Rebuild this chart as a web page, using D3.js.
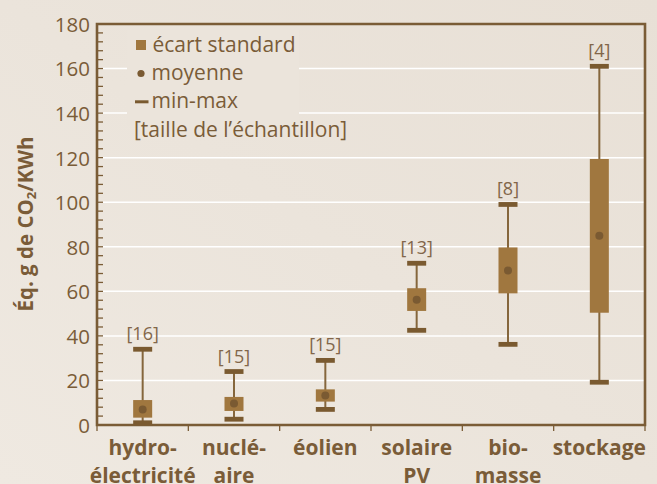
<!DOCTYPE html>
<html>
<head>
<meta charset="utf-8">
<script src="https://cdn.jsdelivr.net/npm/d3@7/dist/d3.min.js"></script>
<style>
html,body{margin:0;padding:0;background:#ebe4db;}
svg{display:block;}
</style>
</head>
<body>
<svg id="chart" width="657" height="484"></svg>
<script>
const categories = [["hydro-","électricité"],["nuclé-","aire"],["éolien"],["solaire","PV"],["bio-","masse"],["stockage"]];
const minVals = [1, 2.6, 7, 42.5, 36.2, 19.2];
const maxVals = [34, 24, 29, 72.6, 99, 161];
const sdLow = [3.3, 6.3, 10.5, 51.2, 59.1, 50.4];
const sdHigh = [11.2, 12.6, 16, 61.4, 79.7, 119.4];
const means = [7, 9.6, 13.2, 56.2, 69.3, 85];
const sampleSizes = [16, 15, 15, 13, 8, 4];
const yTicks = [0, 20, 40, 60, 80, 100, 120, 140, 160, 180];
const legendLabels = ["écart standard", "moyenne", "min-max", "[taille de l’échantillon]"];

const FONT = "'Open Sans', 'DejaVu Sans', sans-serif";
const TEXT = "#7a5c38";
const AXIS = "#7a5c36";
const BOX = "#a0773f";
const CAP = "#7a5a30";
const DOT = "#7a5a32";

const svg = d3.select("#chart");
const W = 657, H = 484;
const m = {left: 97, right: 12, top: 24, bottom: 59};
const iw = W - m.left - m.right, ih = H - m.top - m.bottom;

// background gradient
const defs = svg.append("defs");
const grad = defs.append("linearGradient").attr("id","bg").attr("x1","0").attr("y1","1").attr("x2","1").attr("y2","0");
grad.append("stop").attr("offset","0").attr("stop-color","#efe9e1");
grad.append("stop").attr("offset","0.5").attr("stop-color","#ebe4db");
grad.append("stop").attr("offset","1").attr("stop-color","#e8e0d6");
svg.append("rect").attr("width",W).attr("height",H).attr("fill","url(#bg)");

const x = d3.scaleBand().domain(d3.range(categories.length)).range([m.left, m.left + iw]).padding(0);
const y = d3.scaleLinear().domain([0, 180]).range([m.top + ih, m.top]);

// gridlines
svg.append("g").selectAll("line").data(yTicks.filter(d => d > 0 && d < 180)).join("line")
  .attr("x1", m.left).attr("x2", m.left + iw)
  .attr("y1", d => y(d)).attr("y2", d => y(d))
  .attr("stroke", "#ffffff").attr("stroke-width", 1.5);

// legend background covering gridlines
svg.append("rect").attr("x", 127).attr("y", 30).attr("width", 172).attr("height", 95).attr("fill", "#ebe4db");

// minor ticks on y axis (inside)
const minor = d3.range(0, 181, 4);
svg.append("g").selectAll("line").data(minor).join("line")
  .attr("x1", m.left).attr("x2", m.left + 6)
  .attr("y1", d => y(d)).attr("y2", d => y(d))
  .attr("stroke", AXIS).attr("stroke-width", 1.3);

// y axis labels via d3 axis
const yAxis = d3.axisLeft(y).tickValues(yTicks).tickSize(0).tickPadding(7);
const gy = svg.append("g").attr("transform", `translate(${m.left},0)`).call(yAxis);
gy.select(".domain").remove();
gy.selectAll("text").attr("font-family", FONT).attr("font-size", 20.5).attr("fill", TEXT).attr("dy", "0.36em");

// x axis ticks at band boundaries
const bounds = categories.map((c,i) => x(i)).concat([m.left + iw]);
svg.append("g").selectAll("line").data(bounds).join("line")
  .attr("x1", d => d).attr("x2", d => d)
  .attr("y1", y(0)).attr("y2", y(0) + 6)
  .attr("stroke", AXIS).attr("stroke-width", 1.3);

// frame
svg.append("path")
  .attr("d", `M${m.left},${y(0)}V${y(180)}H${m.left+iw}V${y(0)}Z`)
  .attr("fill","none").attr("stroke", AXIS).attr("stroke-width", 2.6);

// boxes
const bw = 19;
const g = svg.append("g");
const idx = d3.range(categories.length);
const cx = i => x(i) + x.bandwidth()/2;

g.selectAll(".whisker").data(idx).join("line")
  .attr("x1", cx).attr("x2", cx)
  .attr("y1", i => y(minVals[i])).attr("y2", i => y(maxVals[i]))
  .attr("stroke", "#85663c").attr("stroke-width", 2);

g.selectAll(".box").data(idx).join("rect")
  .attr("x", i => cx(i) - bw/2).attr("width", bw)
  .attr("y", i => y(sdHigh[i])).attr("height", i => y(sdLow[i]) - y(sdHigh[i]))
  .attr("fill", BOX);

g.selectAll(".capmax").data(idx).join("rect")
  .attr("x", i => cx(i) - bw/2).attr("width", bw)
  .attr("y", i => y(maxVals[i]) - 2.4).attr("height", 4.8).attr("fill", CAP);
g.selectAll(".capmin").data(idx).join("rect")
  .attr("x", i => cx(i) - bw/2).attr("width", bw)
  .attr("y", i => y(minVals[i]) - 2.4).attr("height", 4.8).attr("fill", CAP);

g.selectAll(".dot").data(idx).join("circle")
  .attr("cx", cx).attr("cy", i => y(means[i])).attr("r", 4)
  .attr("fill", DOT);

g.selectAll(".n").data(idx).join("text")
  .attr("x", cx).attr("y", i => y(maxVals[i]) - 9)
  .attr("text-anchor", "middle").attr("font-family", FONT).attr("font-size", 18)
  .attr("fill", "#82664a")
  .text(i => `[${sampleSizes[i]}]`);

// x labels
const xl = svg.append("g").selectAll("text").data(idx).join("text")
  .attr("text-anchor", "middle").attr("font-family", FONT).attr("font-weight", "bold")
  .attr("font-size", 21).attr("fill", TEXT)
  .attr("x", cx).attr("y", 455);
xl.selectAll("tspan").data(i => categories[i].map(t => ({t, i}))).join("tspan")
  .attr("x", d => cx(d.i)).attr("dy", (d, j) => j === 0 ? 0 : 27.5)
  .text(d => d.t);

// y title
const yt = svg.append("text")
  .attr("transform", "translate(33,224) rotate(-90)")
  .attr("text-anchor", "middle").attr("font-family", FONT).attr("font-weight", "bold")
  .attr("font-size", 20.5).attr("fill", TEXT);
yt.append("tspan").text("Éq. g de CO");
yt.append("tspan").attr("font-size", 13).attr("dy", 3).text("2");
yt.append("tspan").attr("dy", -3).text("/KWh");

// legend
const lg = svg.append("g").attr("font-family", FONT).attr("font-size", 21).attr("fill", TEXT);
lg.append("rect").attr("x", 136).attr("y", 40).attr("width", 10).attr("height", 10).attr("fill", BOX);
lg.append("circle").attr("cx", 141).attr("cy", 73.5).attr("r", 3.6).attr("fill", DOT);
lg.append("rect").attr("x", 135).attr("y", 100.3).attr("width", 13.5).attr("height", 3).attr("fill", CAP);
const lx = [152.5, 151.5, 151.5, 134];
const ly = [52, 79.5, 108.3, 137.3];
lg.selectAll("text").data(legendLabels).join("text")
  .attr("x", (d,i) => lx[i]).attr("y", (d,i) => ly[i]).text(d => d);
</script>
</body>
</html>
